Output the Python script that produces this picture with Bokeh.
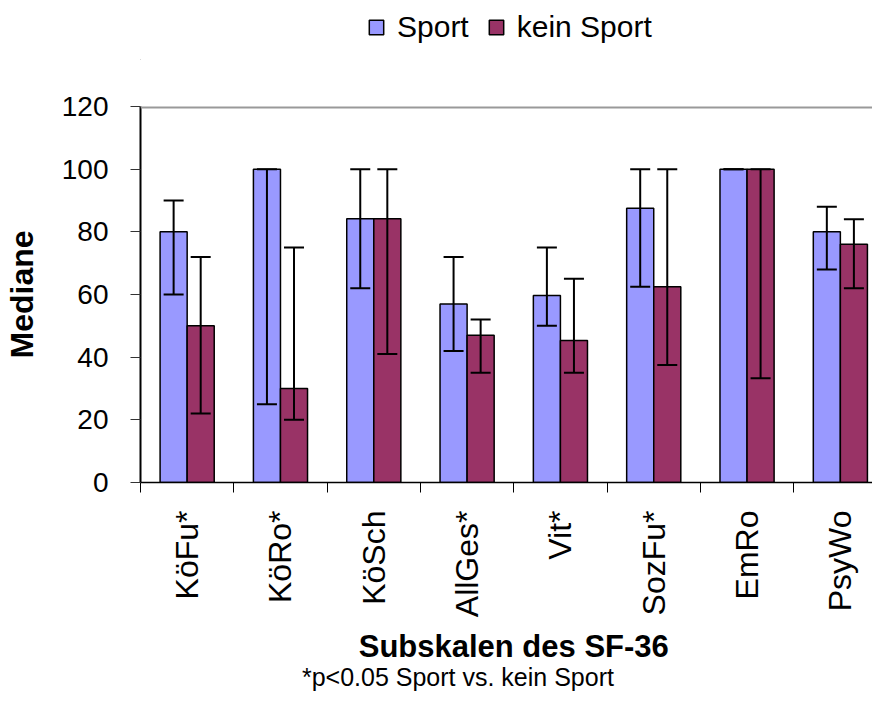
import math
import numpy as np
from bokeh.plotting import figure
from bokeh.layouts import column
from bokeh.models import (ColumnDataSource, Range1d, FixedTicker, Whisker, TeeHead,
                          Legend, LegendItem, Label, Span)
from bokeh.embed import file_html
from bokeh.resources import INLINE

# ---- data ----
categories = ["KöFu*", "KöRo*", "KöSch", "AllGes*", "Vit*", "SozFu*", "EmRo", "PsyWo"]
series_names = ["Sport", "kein Sport"]
sport = [80, 100, 84.2, 57, 59.7, 87.5, 100, 80]
sport_low = [60, 25, 62, 42, 50, 62.5, 100, 68]
sport_high = [90, 100, 100, 72, 75, 100, 100, 88]
kein = [50, 30, 84.2, 47, 45.3, 62.5, 100, 76]
kein_low = [22, 20, 41, 35, 35, 37.5, 33.3, 62]
kein_high = [72, 75, 100, 52, 65, 100, 100, 84]
y_ticks = [0, 20, 40, 60, 80, 100, 120]
x_title = "Subskalen des SF-36"
y_title = "Mediane"
footnote = "*p<0.05 Sport vs. kein Sport"

FONT = "Liberation Sans"
C_SPORT = "#9999FF"
C_KEIN = "#993366"
BAR_W = 0.29
W = 872
LEG_H = 60
BOTTOM = 140
MAIN_H = 46 + 376 + BOTTOM
FOOT_H = 694 - LEG_H - MAIN_H

n = len(categories)
centers = np.arange(n)
x_lo, x_hi = -0.5, -0.5 + 734 / 93.57

src_s = ColumnDataSource(dict(x=centers - BAR_W / 2, top=sport, low=sport_low, high=sport_high))
src_k = ColumnDataSource(dict(x=centers + BAR_W / 2, top=kein, low=kein_low, high=kein_high))

# ---------------- legend strip ----------------
L = figure(width=W, height=LEG_H, x_axis_location=None, y_axis_location=None,
           output_backend="svg", toolbar_location=None, min_border=0,
           x_range=Range1d(1, 2), y_range=Range1d(1, 2))
L.outline_line_color = None
L.grid.visible = False
# legend proxies (outside the visible range of this strip)
l_s = L.vbar(x=[0], top=[0], width=0.1, fill_color=C_SPORT, line_color="black", line_width=1.5)
l_k = L.vbar(x=[0], top=[0], width=0.1, fill_color=C_KEIN, line_color="black", line_width=1.5)
legend = Legend(items=[LegendItem(label=series_names[0], renderers=[l_s]),
                       LegendItem(label=series_names[1], renderers=[l_k])],
                orientation="horizontal", location=(227, 16),
                glyph_width=18, glyph_height=18, label_standoff=12, spacing=18,
                padding=0, margin=0, border_line_color=None, background_fill_alpha=0,
                label_text_font=FONT, label_text_font_size="30px", label_text_color="black")
L.add_layout(legend)

# ---------------- main chart ----------------
p = figure(width=W, height=MAIN_H,
           x_range=Range1d(x_lo, x_hi), y_range=Range1d(0, 120),
           output_backend="svg", toolbar_location=None,
           min_border_left=138, min_border_right=0, min_border_top=46, min_border_bottom=BOTTOM)
p.title.visible = False
p.grid.visible = False
p.outline_line_color = None
p.background_fill_color = "white"

r_s = p.vbar(x="x", top="top", width=BAR_W, source=src_s,
             fill_color=C_SPORT, line_color="black", line_width=1.5)
r_k = p.vbar(x="x", top="top", width=BAR_W, source=src_k,
             fill_color=C_KEIN, line_color="black", line_width=1.5)

for src in (src_s, src_k):
    w = Whisker(source=src, base="x", upper="high", lower="low", level="overlay",
                line_color="black", line_width=2,
                upper_head=TeeHead(size=20, line_color="black", line_width=2),
                lower_head=TeeHead(size=20, line_color="black", line_width=2))
    p.add_layout(w)

# grey top border of the plot area
p.add_layout(Span(location=y_ticks[-1], dimension="width", line_color="#999999", line_width=4))

# y axis
ya = p.yaxis[0]
ya.ticker = FixedTicker(ticks=y_ticks, minor_ticks=[])
ya.axis_line_color = "black"
ya.axis_line_width = 2
ya.major_tick_out = 10
ya.major_tick_in = 0
ya.major_tick_line_color = "#333333"
ya.major_tick_line_width = 1
ya.major_label_standoff = 22
ya.major_label_text_font = FONT
ya.major_label_text_font_size = "28px"
ya.major_label_text_color = "black"
ya.axis_label = y_title
ya.axis_label_text_font = FONT
ya.axis_label_text_font_size = "32px"
ya.axis_label_text_font_style = "bold"
ya.axis_label_text_color = "black"
ya.axis_label_standoff = 19

# x axis
xa = p.xaxis[0]
xa.ticker = FixedTicker(ticks=list(centers), minor_ticks=list(np.arange(n + 1) - 0.5))
xa.major_label_overrides = {int(i): c for i, c in zip(centers, categories)}
xa.axis_line_color = "black"
xa.axis_line_width = 1.5
xa.major_tick_line_color = None
xa.major_tick_out = 10
xa.major_tick_in = 0
xa.minor_tick_out = 10
xa.minor_tick_in = 0
xa.minor_tick_line_color = "black"
xa.minor_tick_line_width = 1
xa.major_label_orientation = math.pi / 2
xa.major_label_standoff = 18
xa.major_label_text_font = FONT
xa.major_label_text_font_size = "32px"
xa.major_label_text_color = "black"

# ---------------- axis title + footnote strip ----------------
F = figure(width=W, height=FOOT_H, x_axis_location=None, y_axis_location=None,
           output_backend="svg", toolbar_location=None, min_border=0,
           x_range=Range1d(x_lo, x_hi), y_range=Range1d(0, 1))
F.outline_line_color = None
F.grid.visible = False
F.add_layout(Label(x=(n - 1) / 2, y=1, y_offset=-24, text=x_title,
                   text_align="center", text_baseline="alphabetic",
                   text_font=FONT, text_font_size="31px", text_font_style="bold",
                   text_color="black"))
F.add_layout(Label(x=1.23, y=1, y_offset=-54, text=footnote,
                   text_align="left", text_baseline="alphabetic",
                   text_font=FONT, text_font_size="25px", text_color="black"))

layout = column(L, p, F, spacing=0)
open("out.html", "w").write(file_html(layout, INLINE))
